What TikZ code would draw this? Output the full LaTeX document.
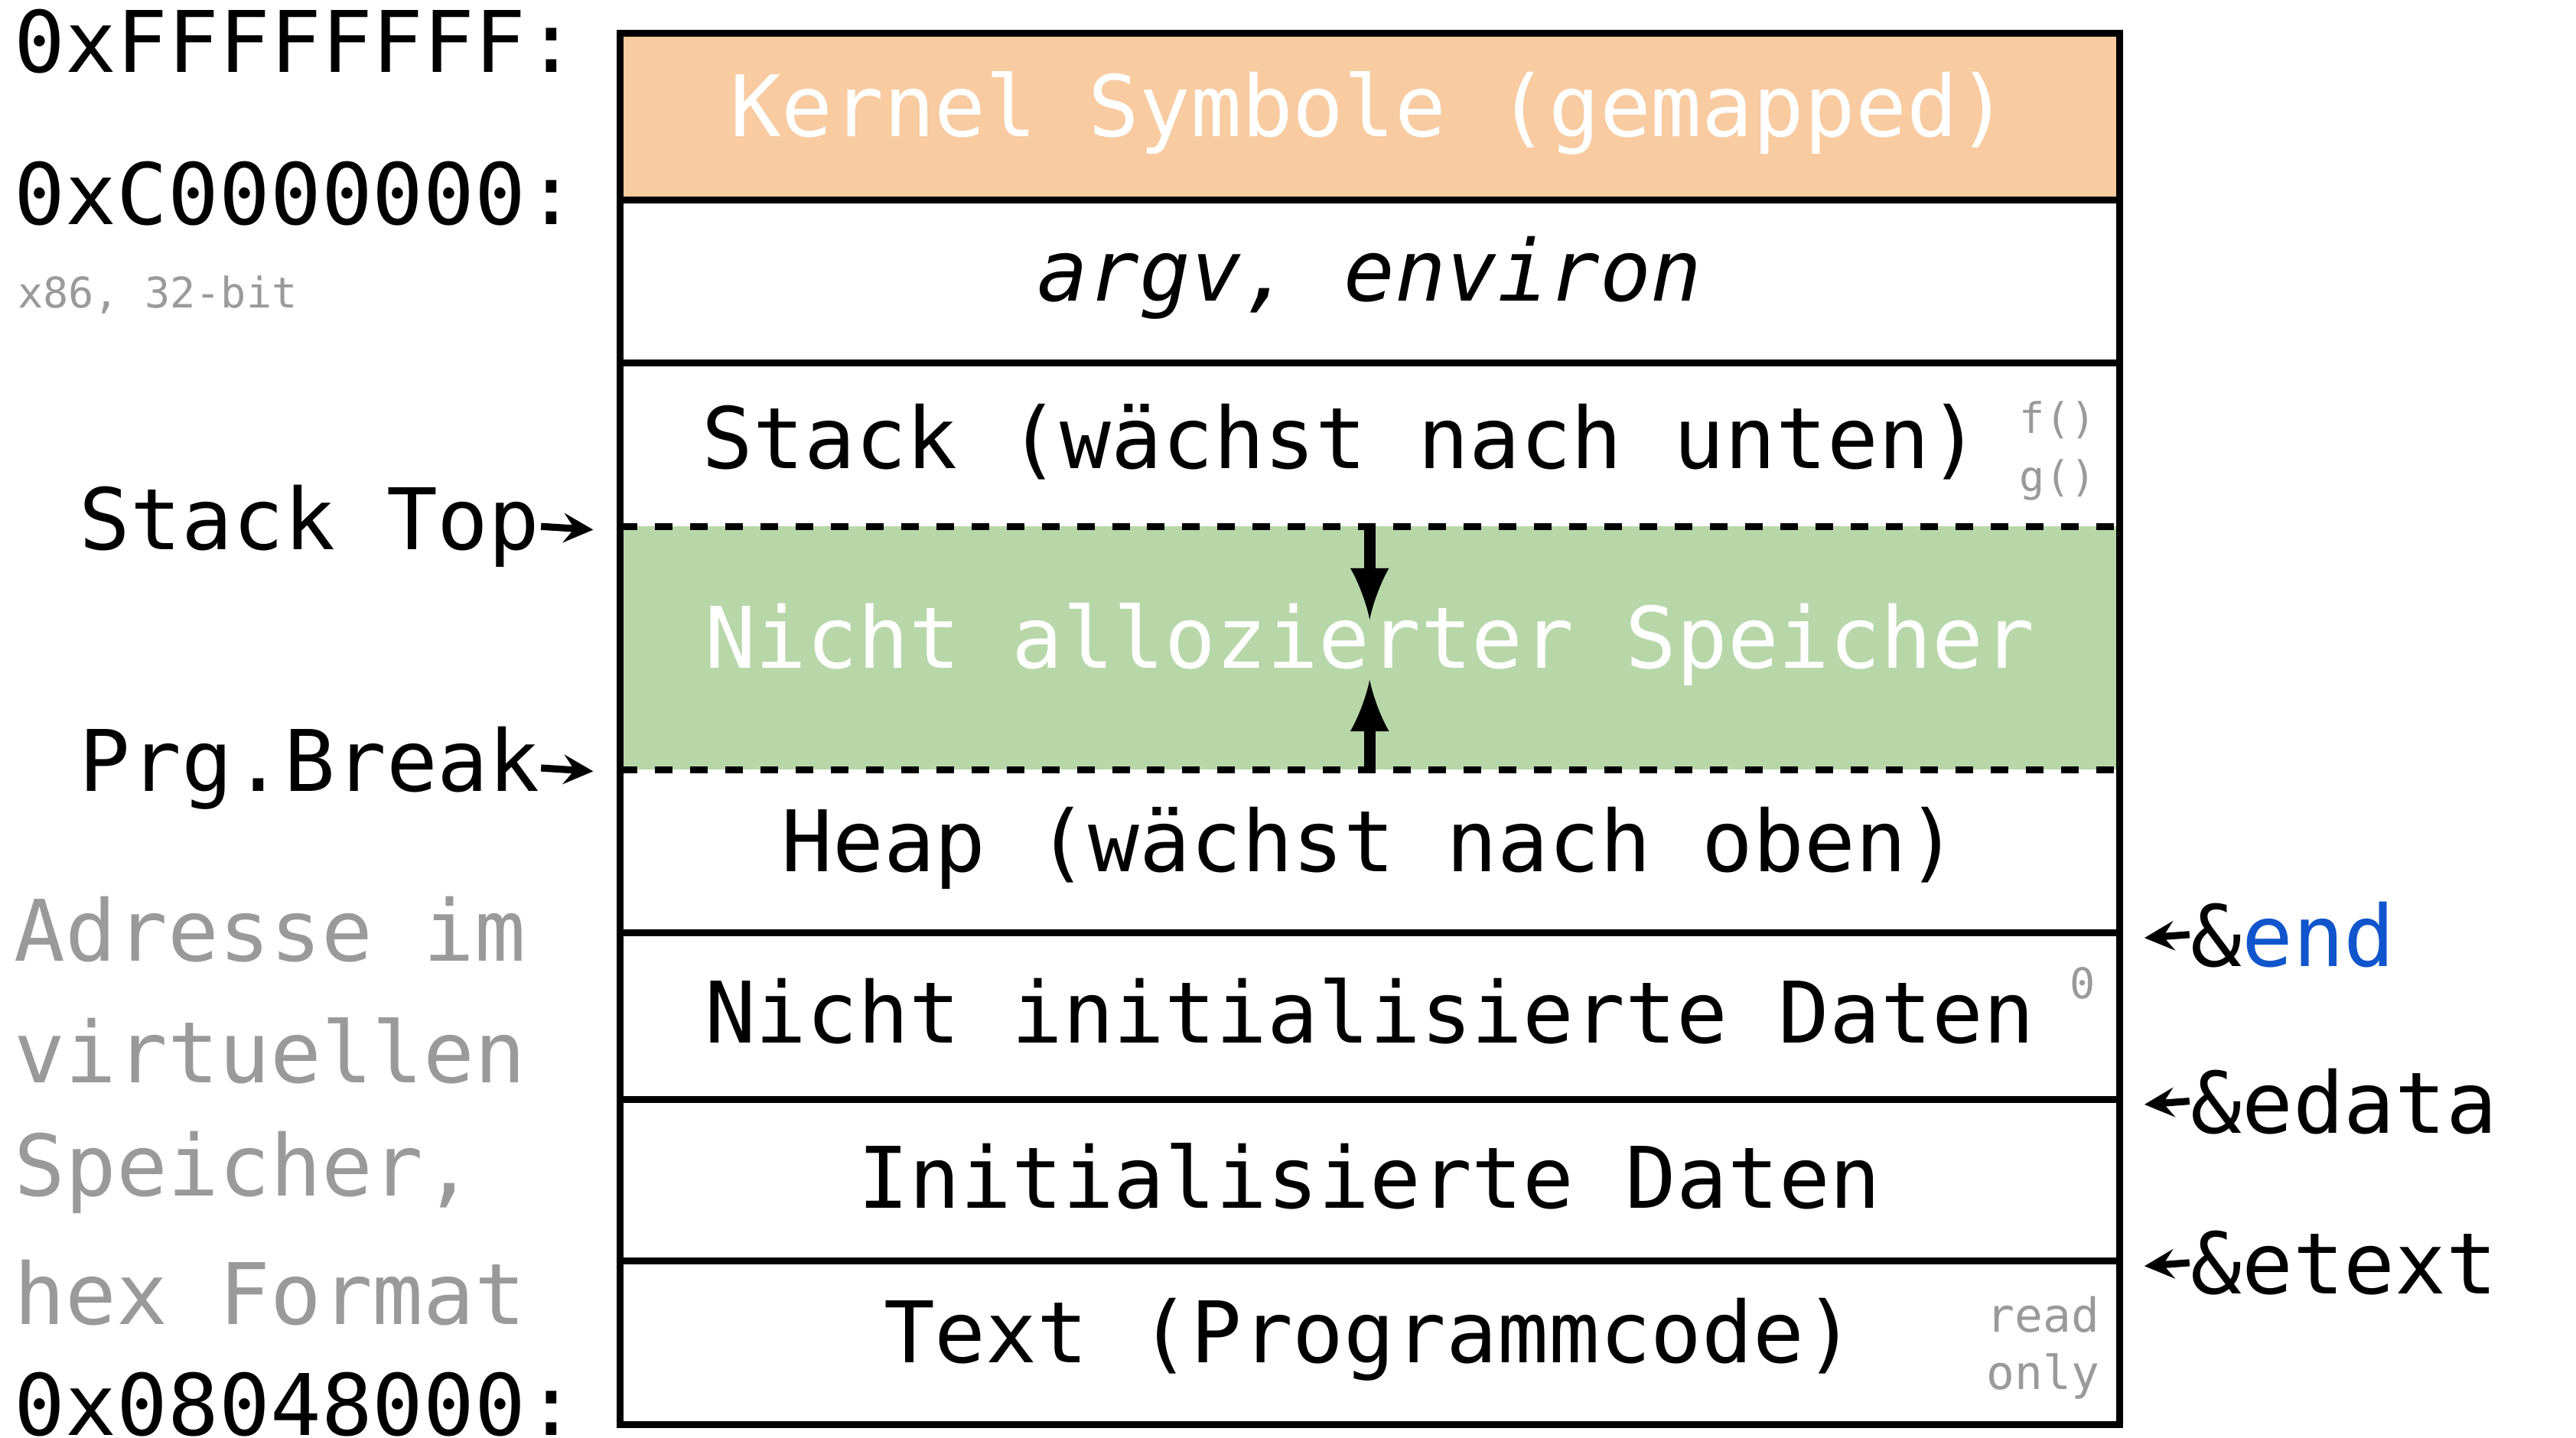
\documentclass[tikz,border=0pt]{standalone}
\usepackage{fontspec}
\setmonofont{DejaVu Sans Mono}
\definecolor{kernelc}{HTML}{F8CBA0}
\definecolor{freec}{HTML}{B7D7A8}
\definecolor{greyc}{HTML}{9A9A9A}
\definecolor{bluec}{HTML}{1155CC}
\tikzset{
  txt/.style={font=\ttfamily\fontsize{14.5}{16}\selectfont, inner sep=0pt},
  small/.style={font=\ttfamily\fontsize{7.2}{8}\selectfont, text=greyc, inner sep=0pt},
  seg/.style={draw, line width=1.2pt},
  ptr/.style={-stealth, line width=1.2pt}
}
\begin{document}
\begin{tikzpicture}[x=0.01cm, y=-0.01cm]
		\useasboundingbox (0,0) rectangle (1546,863);
		% Segmente
		\fill [kernelc] (372,20) rectangle (1272,120);
		\fill [freec] (372,316) rectangle (1272,462);
		\draw [seg] (372,20) rectangle (1272,855);
		\foreach \y in {120,218,560,660,757} \draw [seg] (372,\y) -- (1272,\y);
		\foreach \y in {316,462} \draw [dashed, line width=1.2pt] (372,\y) -- (1272,\y);

		\node [txt, text=white] (kernel) at (822,68) {Kernel Symbole (gemapped)};
		\node [txt] (argv) at (822,167) {\itshape argv, environ};
		\node [txt] (stack) at (805,265) {Stack (wächst nach unten)};
		\node [txt, text=white] (free) at (822,387) {Nicht allozierter Speicher};
		\node [txt] (heap) at (822,509) {Heap (wächst nach oben)};
		\node [txt] (bss) at (822,607) {Nicht initialisierte Daten};
		\node [txt] (data) at (822,706) {Initialisierte Daten};
		\node [txt] (text) at (822,804) {Text (Programmcode)};

		% Wachstum
		\coordinate (stop) at (822,316);
		\coordinate (sdown) at (822,372);
		\coordinate (hbot) at (822,462);
		\coordinate (hup) at (822,408);
		\draw [-latex, line width=2pt] (stop) -- (sdown);
		\draw [-latex, line width=2pt] (hbot) -- (hup);

		% kleine Hinweise
		\node [small] (f) at (1235,252) {f()};
		\node [small] (g) at (1235,288) {g()};
		\node [small] (zero) at (1250,590) {0};
		\node [small, font=\ttfamily\fontsize{8}{9}\selectfont] (ro1) at (1226,789) {read};
		\node [small, font=\ttfamily\fontsize{8}{9}\selectfont] (ro2) at (1226,826) {only};

		% Adressen links
		\node [txt, anchor=west] (top) at (8,25) {0xFFFFFFFF:};
		\node [txt, anchor=west] (kbase) at (8,116) {0xC0000000:};
		\node [small, anchor=west] (arch) at (10,177) {x86, 32-bit};
		\node [txt, anchor=west] (stacktop) at (47,316) {Stack Top};
		\node [txt, anchor=west] (brk) at (47,461) {Prg.Break};
		\node [txt, anchor=west, text=greyc] (l1) at (8,558) {Adresse im};
		\node [txt, anchor=west, text=greyc] (l2) at (8,631) {virtuellen};
		\node [txt, anchor=west, text=greyc] (l3) at (8,704) {Speicher,};
		\node [txt, anchor=west, text=greyc] (l4) at (8,776) {hex Format};
		\node [txt, anchor=west] (bottom) at (8,843) {0x08048000:};
		\coordinate (st) at (356,318);
		\coordinate (bk) at (356,463);
		\draw [ptr] (stacktop.east) -- (st);
		\draw [ptr] (brk.east) -- (bk);

		% Symbole rechts
		\node [txt, anchor=west] (end) at (1314,561) {\&\textcolor{bluec}{end}};
		\node [txt, anchor=west] (edata) at (1314,661) {\&edata};
		\node [txt, anchor=west] (etext) at (1314,758) {\&etext};
		\foreach \n/\y in {end/563,edata/663,etext/760} {
			\coordinate (p\n) at (1287,\y);
			\draw [ptr] (\n.west) -- (p\n);
		}
\end{tikzpicture}
\end{document}
